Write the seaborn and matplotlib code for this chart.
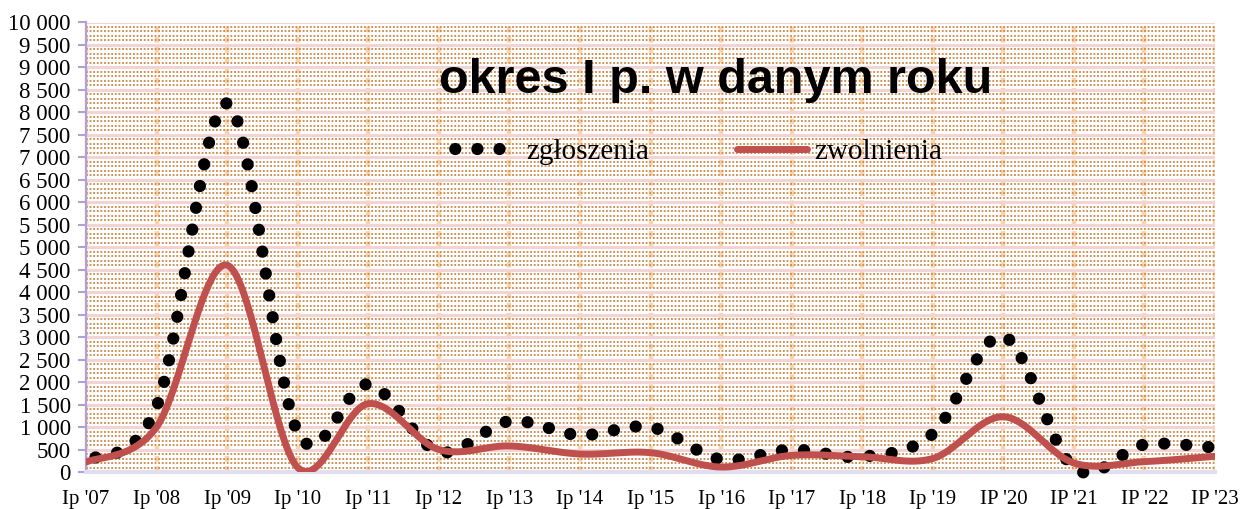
import numpy as np
import pandas as pd
import matplotlib
matplotlib.use("Agg")
import matplotlib.pyplot as plt
from matplotlib.ticker import MultipleLocator, FuncFormatter
from matplotlib.lines import Line2D
import seaborn as sns

# ---- data ----
periods = ["Ip '07", "Ip '08", "Ip '09", "Ip '10", "Ip '11", "Ip '12", "Ip '13", "Ip '14",
           "Ip '15", "Ip '16", "Ip '17", "Ip '18", "Ip '19", "IP '20", "IP '21", "IP '22", "IP '23"]
zgloszenia = [250, 1450, 8200, 880, 1950, 450, 1130, 820, 1000, 280, 500, 340, 850, 3020, 90, 610, 540]
zwolnienia = [220, 1000, 4600, 100, 1520, 500, 580, 400, 430, 110, 370, 340, 300, 1230, 200, 230, 350]
title_text = "okres I p. w danym roku"
series_names = ["zgłoszenia", "zwolnienia"]


def smooth(xv, yv, n=80):
    """Excel-like smoothed line: cubic Bezier segments through each data point."""
    xv = np.asarray(xv, float)
    yv = np.asarray(yv, float)
    P = np.column_stack([xv, yv])
    m = len(P)
    out = []
    for i in range(m - 1):
        p0 = P[i - 1] if i > 0 else P[i]
        p1 = P[i]
        p2 = P[i + 1]
        p3 = P[i + 2] if i + 2 < m else P[i + 1]
        c1 = p1 + (p2 - p0) / 6.0
        c2 = p2 - (p3 - p1) / 6.0
        t = np.linspace(0, 1, n, endpoint=(i == m - 2))[:, None]
        seg = ((1 - t) ** 3) * p1 + 3 * ((1 - t) ** 2) * t * c1 + 3 * (1 - t) * t ** 2 * c2 + t ** 3 * p2
        out.append(seg)
    out = np.vstack(out)
    return out[:, 0], out[:, 1]


sns.set_theme(style="white")
plt.rcParams["font.family"] = ["Liberation Serif", "DejaVu Serif"]
plt.rcParams["text.color"] = "black"
plt.rcParams["xtick.color"] = "black"
plt.rcParams["ytick.color"] = "black"

DPI = 100
fig = plt.figure(figsize=(12.4, 5.09), dpi=DPI)
ax = fig.add_axes([86 / 1240, 1 - 472 / 509, (1215 - 86) / 1240, (472 - 22.5) / 509])
ax.set_xlim(0, 16)
ax.set_ylim(0, 10000)

xpos = np.arange(len(periods))
sx1, sy1 = smooth(xpos, zgloszenia)
sx2, sy2 = smooth(xpos, zwolnienia)
df1 = pd.DataFrame({"x": sx1, "y": sy1})
df2 = pd.DataFrame({"x": sx2, "y": sy2})

red = "#c0504d"
dot_lw = 8.8
period = 1.81

sns.lineplot(data=df1, x="x", y="y", ax=ax, sort=False, color="black", lw=dot_lw, zorder=4)
line_z = ax.lines[-1]
ax.set_xlim(0, 16)
ax.set_ylim(0, 10000)
# phase the dot pattern so that a dot sits on the highest point
pix = ax.transData.transform(np.column_stack([sx1, sy1]))
cum = np.concatenate([[0], np.cumsum(np.hypot(*np.diff(pix, axis=0).T))])
L_peak = cum[int(np.argmax(sy1))] * 72.0 / DPI / dot_lw
offset = (-L_peak) % period
line_z.set_linestyle((offset, (0.01, period - 0.01)))
line_z.set_dash_capstyle("round")
line_z.set_clip_on(False)

sns.lineplot(data=df2, x="x", y="y", ax=ax, sort=False, color=red, lw=5.0, zorder=5)
ax.lines[-1].set_solid_capstyle("round")

ax.set_xlim(0, 16)
ax.set_ylim(0, 10000)
ax.set_xticks(xpos)
ax.set_xticklabels(periods, fontsize=15)
ax.yaxis.set_major_locator(MultipleLocator(500))
ax.yaxis.set_minor_locator(MultipleLocator(100))
ax.yaxis.set_major_formatter(FuncFormatter(lambda v, p: f"{int(v):,}".replace(",", " ")))
ax.tick_params(axis="y", which="major", labelsize=16.5, length=6, width=1.5, color="#b0a0d8",
               labelcolor="black", direction="out", left=True, pad=5)
ax.tick_params(axis="y", which="minor", length=0)
ax.tick_params(axis="x", which="major", length=0, pad=13, labelcolor="black")
ax.set_xlabel("")
ax.set_ylabel("")

# grid
ax.set_axisbelow(True)
ax.grid(False)
ax.yaxis.grid(True, which="minor", color="#c88848", linestyle=(0, (1, 1)), linewidth=1.3)
ax.yaxis.grid(True, which="major", color="#f3d4d4", linestyle="-", linewidth=2.2)
ax.xaxis.grid(True, which="major", color="#fdd4aa", linestyle=(0, (1.3, 1.0)), linewidth=3.2)

for s in ["top", "right"]:
    ax.spines[s].set_visible(False)
ax.spines["left"].set_color("#b0a0d8")
ax.spines["left"].set_linewidth(1.6)
ax.spines["bottom"].set_color("#e2def0")
ax.spines["bottom"].set_linewidth(3)
ax.set_facecolor("white")

# title inside plot
ax.text(0.558, 0.87, title_text, transform=ax.transAxes, ha="center", va="center",
        fontsize=35, fontweight="bold", color="black",
        family=["Liberation Sans", "DejaVu Sans"], zorder=6)

# legend
h1 = Line2D([], [], color="black", lw=dot_lw, linestyle=(1.3, (0.01, period - 0.01)),
            dash_capstyle="round")
h2 = Line2D([], [], color=red, lw=5.0, solid_capstyle="round")
leg = ax.legend([h1, h2], series_names, loc="center", bbox_to_anchor=(0.54, 0.713),
                ncol=2, frameon=False, fontsize=21, handlelength=2.4, handletextpad=0.25,
                columnspacing=3.0)
leg.set_zorder(7)
for t in leg.get_texts():
    t.set_color("black")

fig.savefig("out.png", dpi=DPI, facecolor="white")
